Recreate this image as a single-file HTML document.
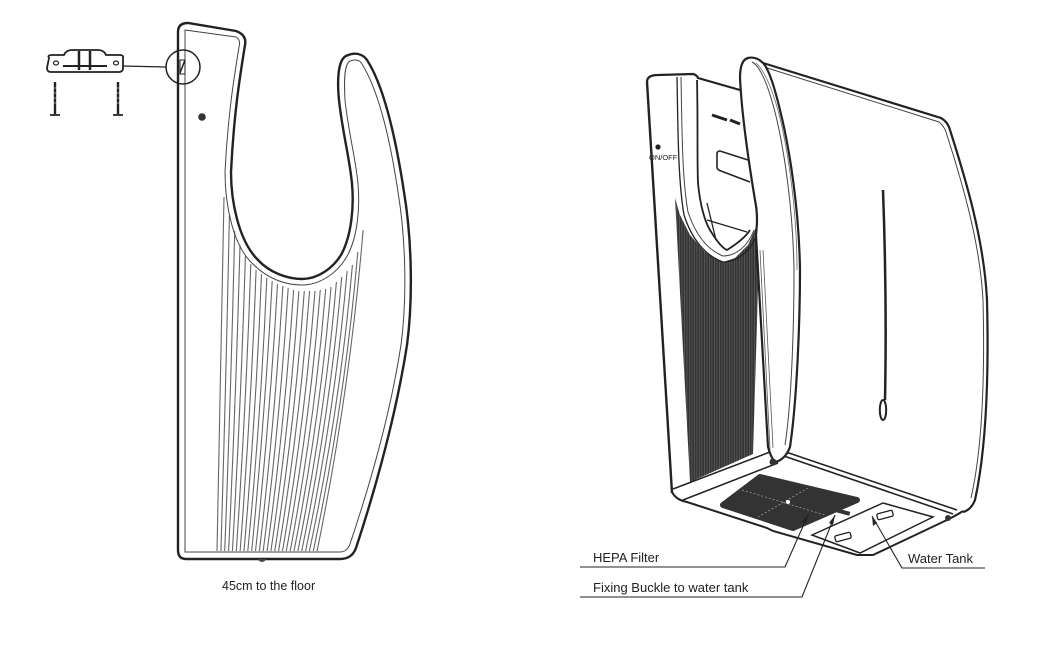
<!DOCTYPE html>
<html><head><meta charset="utf-8"><style>
html,body{margin:0;padding:0;background:#fff;}
svg{display:block;}
text{font-family:"Liberation Sans",sans-serif;fill:#222;}
</style></head><body>
<svg width="1063" height="646" viewBox="0 0 1063 646" xmlns="http://www.w3.org/2000/svg">
<defs>
<pattern id="vl" width="2.5" height="6" patternUnits="userSpaceOnUse">
<rect width="2.5" height="6" fill="#333"/><rect x="1.7" width="0.5" height="6" fill="#777"/>
</pattern>
</defs>

<!-- LEFT DRYER -->
<g fill="none" stroke="#666" stroke-width="1.1">
<path d="M224,197 Q221,374 217,551"/>
<path d="M229.4,215 Q226,383 220.9,551"/>
<path d="M234.7,231 Q231,391 224.7,551"/>
<path d="M240,245 Q236,398 228.6,551"/>
<path d="M245.4,256 Q241,404 232.4,551"/>
<path d="M250.8,264 Q246,408 236.3,551"/>
<path d="M256.1,270 Q251,411 240.1,551"/>
<path d="M261.5,274 Q256,413 244,551"/>
<path d="M266.8,278 Q261,415 247.8,551"/>
<path d="M272.2,281 Q265,416 251.7,551"/>
<path d="M277.5,284 Q270,418 255.5,551"/>
<path d="M282.9,286 Q275,419 259.4,551"/>
<path d="M288.2,288 Q280,420 263.2,551"/>
<path d="M293.6,290 Q285,421 267.1,551"/>
<path d="M298.9,291 Q290,421 270.9,551"/>
<path d="M304.3,291 Q295,421 274.8,551"/>
<path d="M309.6,291 Q300,421 278.6,551"/>
<path d="M315,291 Q305,421 282.5,551"/>
<path d="M320.3,290 Q310,421 286.3,551"/>
<path d="M325.7,289 Q315,420 290.2,551"/>
<path d="M331,287 Q320,419 294,551"/>
<path d="M336.4,282 Q325,417 297.9,551"/>
<path d="M341.7,277 Q330,414 301.7,551"/>
<path d="M347.1,271 Q335,411 305.6,551"/>
<path d="M352.4,265 Q340,408 309.4,551"/>
<path d="M357.8,252 Q345,402 313.3,551"/>
<path d="M363.1,230 Q350,390 317.1,551"/>
</g>
<path d="M178,32 Q178,23 188,23 L236,31 Q247,35 245,45 C241,70 234,110 231,172 C231,200 238,240 258,260 C270,273 288,279 302,279 C318,279 333,268 341,255 C352,235 354,205 352,184 C350,160 342,130 339,100 C337,80 338,60 346,56 C354,52 362,53 367,60 C380,80 393,120 404,192 C412,240 413,300 407,345 C400,390 385,460 356,548 Q352,559 340,559 L186,559 Q178,559 178,550 Z" fill="none" stroke="#222" stroke-width="2.4"/>
<path d="M185,30 L236,37 Q241,40 239,47 C235,72 228,112 225,172 C225,202 232,246 254,265 C268,279 286,285 302,285 C320,285 337,273 346,258 C358,238 360,207 358,184 C356,160 348,130 345,100 C344,82 344,64 350,61 C356,59 360,60 362,64 C375,85 388,125 398,192 C406,240 407,300 401,345 C394,390 379,458 350,544 Q347,552 340,552 L185,552 Z" fill="none" stroke="#444" stroke-width="1"/>
<circle cx="202" cy="117" r="3.8" fill="#333"/>
<path d="M258,559 Q262,564 266,559" fill="#444" stroke="#444"/>
<!-- bracket -->
<path d="M49,58 Q47,55 52,55 L64,55 Q66,50 72,50 L98,50 Q104,50 106,55 L120,55 Q124,55 123,59 L123,68 Q123,72 119,72 L51,72 Q47,72 47,68 Z" fill="none" stroke="#222" stroke-width="1.8"/>
<ellipse cx="56" cy="63" rx="2.5" ry="2" fill="none" stroke="#222" stroke-width="1.2"/>
<ellipse cx="116" cy="63" rx="2.5" ry="2" fill="none" stroke="#222" stroke-width="1.2"/>
<path d="M63,66 L107,66" stroke="#222" stroke-width="2"/>
<path d="M79,51 L79,70 M90,51 L90,70" stroke="#222" stroke-width="2.5"/>
<path d="M123,66 L166,67" stroke="#222" stroke-width="1.3"/>
<circle cx="183" cy="67" r="17" fill="none" stroke="#222" stroke-width="1.5"/>
<path d="M180,73 L185,60" stroke="#222" stroke-width="1.5"/>
<rect x="180" y="60" width="5" height="14" fill="none" stroke="#222" stroke-width="1"/>
<g stroke="#222" stroke-width="2.4">
<path d="M55,82 L55,114 M118,82 L118,114"/>
</g>
<path d="M50,115 L60,115 M113,115 L123,115" stroke="#222" stroke-width="1.8"/>
<g stroke="#fff" stroke-width="0.6"><path d="M53,88 h4 M53,93 h4 M53,98 h4 M53,103 h4 M116,88 h4 M116,93 h4 M116,98 h4 M116,103 h4"/></g>
<text x="222" y="590" font-size="12.5">45cm to the floor</text>

<!-- RIGHT DRYER -->
<path d="M763,63 L941,118 Q948,122 950,130 C966,180 984,240 987,300 C989,380 986,450 975,500 Q971,510 963,512" fill="none" stroke="#222" stroke-width="2.2"/>
<path d="M764,67 L939,122 Q944,126 946,132 C962,182 980,242 983,300 C985,380 982,450 971,498" fill="none" stroke="#444" stroke-width="1"/>
<path d="M883,190 Q887,300 885,400" fill="none" stroke="#222" stroke-width="2.5"/>
<ellipse cx="883" cy="410" rx="3.2" ry="10" fill="none" stroke="#222" stroke-width="2"/>
<path d="M672,492 Q676,500 687,502 L767,528 L773,531 L857,555 L873,555 L947,520 Q957,515 963,511" fill="none" stroke="#222" stroke-width="2"/>
<path d="M780,450 L957,510 M781,455 L953,514" stroke="#222" stroke-width="1.6"/>
<path d="M673,489 L770,452 M683,500 L778,463" stroke="#222" stroke-width="1.5"/>
<path d="M723,505 L760,477 L857,500 L793,528 Z" fill="#333" stroke="#333" stroke-width="6" stroke-linejoin="round"/>
<path d="M742,490 L825,515 M808,488 L758,517" stroke="#aaa" stroke-width="0.7" stroke-dasharray="2,2"/>
<circle cx="788" cy="502" r="2" fill="#fff"/>
<rect x="836" y="510" width="14" height="4" fill="#333" transform="rotate(15 843 512)"/>
<path d="M812,535 L883,503 L933,517 L860,553 Z" fill="none" stroke="#222" stroke-width="1.5"/>
<rect x="835" y="534" width="16" height="6" rx="1.5" fill="none" stroke="#222" stroke-width="1.3" transform="rotate(-15 843 537)"/>
<rect x="877" y="512" width="16" height="6" rx="1.5" fill="none" stroke="#222" stroke-width="1.3" transform="rotate(-15 885 515)"/>
<path d="M647,82 Q647,75 658,75 L693,74 Q697,75 698,78 L740,90" fill="none" stroke="#222" stroke-width="2.2"/>
<path d="M647,82 L653,180 L672,493" fill="none" stroke="#222" stroke-width="2.4"/>
<path d="M675,198 L690,482 L753,454 L761,188 L757,225 L748,245 L735,258 L723,262 L705,252 L690,235 L680,215 Z" fill="url(#vl)"/>
<path d="M677,77 C678,130 678,180 684,215 C692,240 706,256 723,262 C738,262 752,250 758,232" fill="none" stroke="#222" stroke-width="1.3"/>
<path d="M681,77 C682,130 682,178 688,212 C696,236 708,250 723,256 C736,256 748,246 754,230" fill="none" stroke="#444" stroke-width="1"/>
<path d="M697,80 C698,120 697,160 698,183 C700,205 705,222 710,230 C716,240 722,248 727,250 C735,245 745,238 750,230" fill="none" stroke="#222" stroke-width="1.8"/>
<path d="M712,115 L727,120 M730,120 L740,124" stroke="#222" stroke-width="3"/>
<path d="M748,160 L720,151 Q717,151 717,154 L717,167 Q717,170 721,171 L750,182" fill="none" stroke="#222" stroke-width="1.6"/>
<path d="M707,220 L747,232 M707,203 L716,240" stroke="#222" stroke-width="1.3"/>
<circle cx="658" cy="147" r="2.6" fill="#222"/>
<text x="649" y="160" font-size="7.5" fill="#333">ON/OFF</text>
<path d="M748,58 Q740,60 740,78 C742,120 750,170 755,200 C758,215 757,225 756,235 L768,447 Q771,458 775,462 Q785,460 790,447 C797,400 800,320 800,270 C799,210 790,150 780,110 C774,85 768,68 763,63 Q756,56 748,58 Z" fill="#fff" stroke="#222" stroke-width="2.2"/>
<path d="M752,62 C760,66 768,85 775,112 C785,152 793,212 794,270 C794,320 792,400 785,445" fill="none" stroke="#444" stroke-width="1"/>
<path d="M756,63 C764,70 772,88 779,114 C789,154 797,214 797,270" fill="none" stroke="#666" stroke-width="0.8"/>
<path d="M760,250 L770,450 M763,250 L773,448" stroke="#555" stroke-width="0.8"/>
<circle cx="773" cy="462" r="3.5" fill="#333"/>
<circle cx="948" cy="518" r="3" fill="#333"/>
<g fill="none" stroke="#222" stroke-width="1.1">
<path d="M580,567 L785,567 L808,515"/>
<path d="M580,597 L802,597 L835,515"/>
<path d="M985,568 L902,568 L872,516"/>
</g>
<g fill="#222">
<path d="M808,515 L801,522 L806,524 Z"/>
<path d="M835,515 L829,523 L833,525 Z"/>
<path d="M872,516 L873,526 L877,523 Z"/>
</g>
<text x="593" y="562" font-size="13">HEPA Filter</text>
<text x="593" y="592" font-size="13">Fixing Buckle to water tank</text>
<text x="908" y="563" font-size="13">Water Tank</text>
</svg>
</body></html>
